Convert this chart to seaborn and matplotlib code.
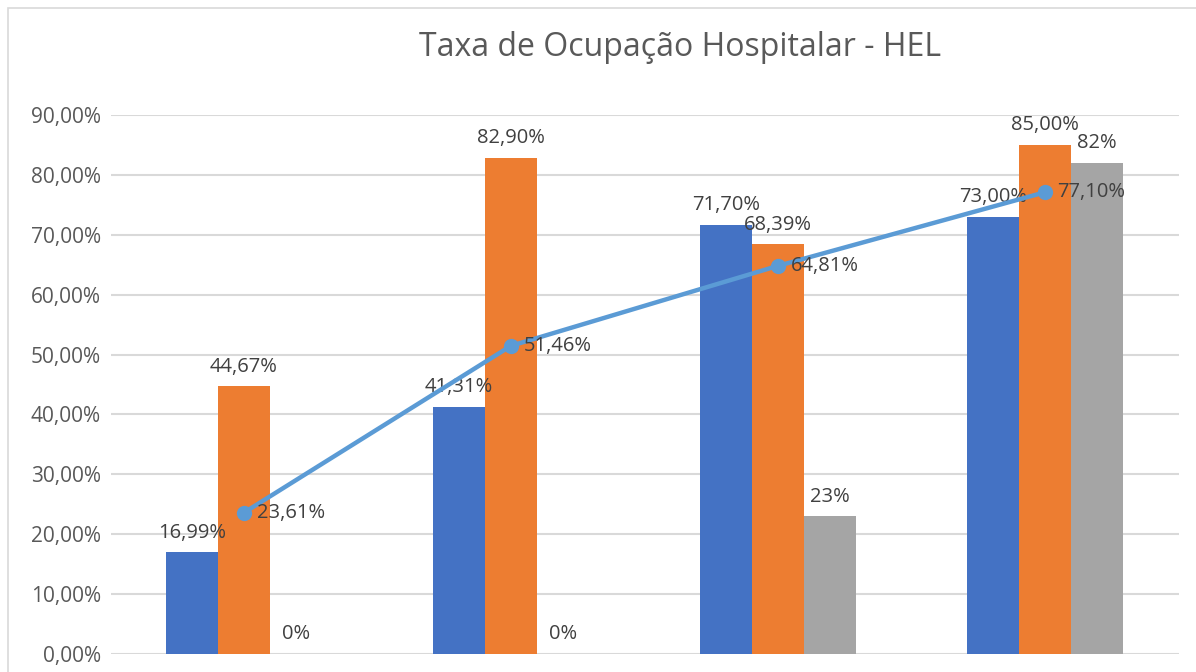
import matplotlib
matplotlib.use("Agg")
import matplotlib.pyplot as plt
import seaborn as sns
import numpy as np
import pandas as pd
from matplotlib.patches import Rectangle

# the x labels and legend are cut off in the source image, so names here are placeholders
categories = ["P1", "P2", "P3", "P4"]
series_names = ["Série 1", "Série 2", "Série 3"]
serie_1 = [16.99, 41.31, 71.70, 73.00]
serie_2 = [44.67, 82.90, 68.39, 85.00]
serie_3 = [0, 0, 23, 82]
linha = [23.61, 51.46, 64.81, 77.10]
yticks = [0, 10, 20, 30, 40, 50, 60, 70, 80, 90]

bar_colors = ["#4472C4", "#ED7D31", "#A5A5A5"]
line_color = "#5B9BD5"
text_color = "#404040"

sns.set_theme(style="white")
plt.rcParams["font.family"] = ["Open Sans", "DejaVu Sans"]

df = pd.DataFrame({
    "categoria": categories * 3,
    "serie": [s for s in series_names for _ in categories],
    "valor": serie_1 + serie_2 + serie_3,
})

fig = plt.figure(figsize=(11.96, 6.72), dpi=100)
ax = fig.add_axes([0.0924, 0.0268, 0.8930, 0.8021])

sns.barplot(data=df, x="categoria", y="valor", hue="serie", palette=bar_colors,
            width=0.585, gap=0, saturation=1, legend=False, linewidth=0, ax=ax, zorder=2)

def fmt(v):
    return ("%.2f%%" % v).replace(".", ",")

for cont, vals, integer in zip(ax.containers, [serie_1, serie_2, serie_3], [False, False, True]):
    labels = ["%d%%" % v if integer else fmt(v) for v in vals]
    ax.bar_label(cont, labels=labels, padding=7, fontsize=14.5, color=text_color)

xs = np.arange(len(categories))
sns.lineplot(x=xs, y=linha, ax=ax, color=line_color, linewidth=3.2, marker="o",
             markersize=11, markeredgewidth=0, zorder=4)
for x, v in zip(xs, linha):
    ax.annotate(fmt(v), (x, v), xytext=(9, 0), textcoords="offset points",
                ha="left", va="center", fontsize=14.5, color=text_color, zorder=5)

ax.set_ylim(0, 90)
ax.set_xlim(-0.5, len(categories) - 0.5)
ax.set_yticks(yticks)
ax.set_yticklabels([("%.2f%%" % t).replace(".", ",") for t in yticks])
ax.tick_params(axis="y", length=0, pad=7, labelsize=15, labelcolor="#595959")
ax.set_xticks([])
ax.set_xlabel("")
ax.set_ylabel("")
ax.grid(axis="y", color="#d9d9d9", linewidth=1.5, zorder=0)
ax.set_axisbelow(True)
for s in ax.spines.values():
    s.set_visible(False)

fig.text(0.569, 0.930, "Taxa de Ocupação Hospitalar - HEL", ha="center", va="center",
         fontsize=23, color="#595959")

fig.patches.append(Rectangle((8 / 1196, -0.1), 1.2, 1.1 - 8 / 672, transform=fig.transFigure,
                             fill=False, edgecolor="#d9d9d9", linewidth=1.2))

fig.savefig("out.png", dpi=100)
